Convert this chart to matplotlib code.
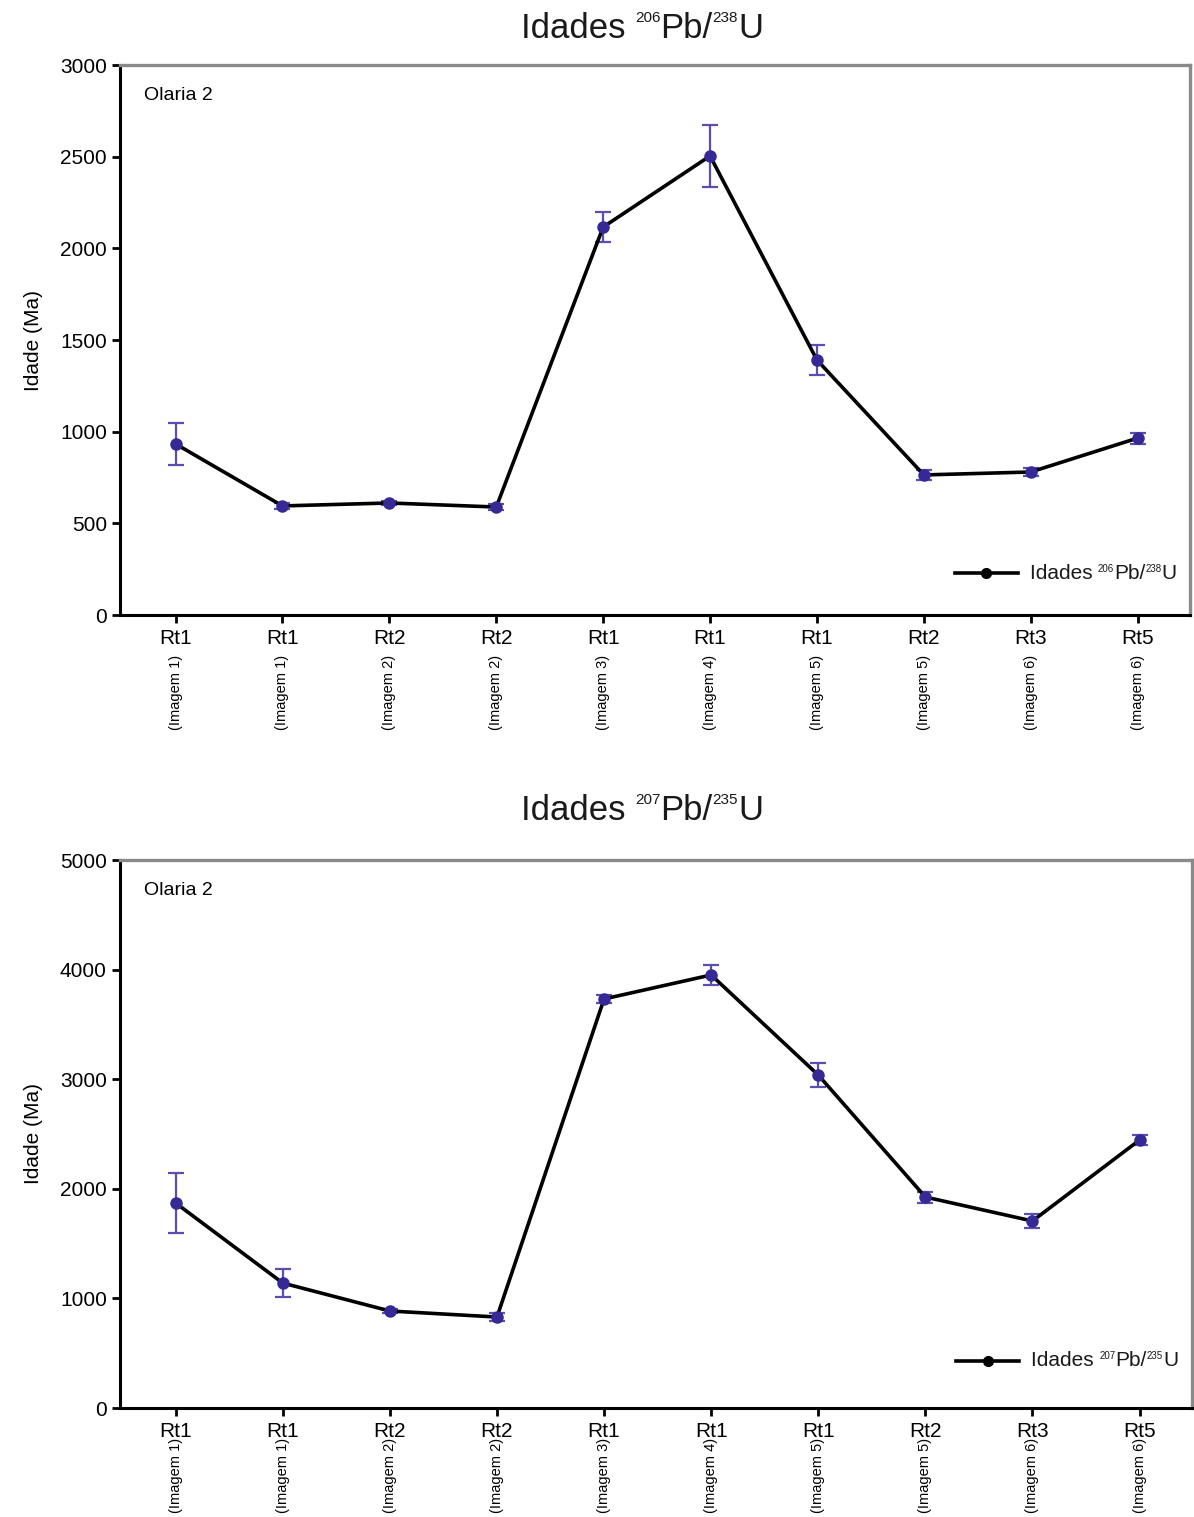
import matplotlib.pyplot as plt
from matplotlib import transforms
from matplotlib.offsetbox import TextArea, HPacker, AnchoredOffsetbox

plt.rcParams['font.family'] = ['Liberation Sans', 'DejaVu Sans']

# sample labels on the x axis
SAMPLES = ['Rt1', 'Rt1', 'Rt2', 'Rt2', 'Rt1', 'Rt1', 'Rt1', 'Rt2', 'Rt3', 'Rt5']
IMAGES = ['(Imagem 1)', '(Imagem 1)', '(Imagem 2)', '(Imagem 2)', '(Imagem 3)',
          '(Imagem 4)', '(Imagem 5)', '(Imagem 5)', '(Imagem 6)', '(Imagem 6)']

# 206Pb/238U ages and errors (Ma)
AGE_206 = [933, 595, 611, 589, 2116, 2504, 1391, 764, 780, 965]
ERR_206 = [115, 15, 12, 15, 80, 170, 80, 25, 20, 30]

# 207Pb/235U ages and errors (Ma)
AGE_207 = [1870, 1140, 885, 830, 3732, 3951, 3038, 1925, 1706, 2445]
ERR_207 = [270, 125, 20, 40, 35, 90, 110, 50, 60, 45]

W, H = 1194, 1517
fig = plt.figure(figsize=(W / 100, H / 100), dpi=100)


# "Idades ^aPb/^bU" with small raised isotope numbers
def isotope_label(a, b, size, sup_size):
    big = dict(fontsize=size, color='#1a1a1a')
    small = dict(fontsize=sup_size, color='#1a1a1a')
    parts = [TextArea('Idades ', textprops=big), TextArea(a, textprops=small),
             TextArea('Pb/', textprops=big), TextArea(b, textprops=small),
             TextArea('U', textprops=big)]
    return HPacker(children=parts, align='top', pad=0, sep=0)


def place(box, xy, transform, loc):
    ab = AnchoredOffsetbox(loc=loc, child=box, bbox_to_anchor=xy,
                           bbox_transform=transform, frameon=False, pad=0, borderpad=0)
    return ab


def panel(rect, ages, errs, ymax, yticks, iso, title_y, img_off, key_y):
    ax = fig.add_axes(rect)
    x = list(range(len(ages)))
    ax.errorbar(x, ages, yerr=errs, fmt='none', ecolor='#5a4fb0', elinewidth=1.6,
                capsize=6, capthick=1.6, zorder=2)
    ax.plot(x, ages, color='black', lw=2.6, zorder=3)
    ax.plot(x, ages, 'o', color='#352a95', ms=8, zorder=4)

    # legend key
    ax.plot([0.780, 0.839], [key_y, key_y], color='black', lw=2.6,
            transform=ax.transAxes, clip_on=False)
    ax.plot([0.8095], [key_y], 'o', color='black', ms=7, transform=ax.transAxes)
    ax.add_artist(place(isotope_label(iso[0], iso[1], 15, 7), (0.850, key_y),
                        ax.transAxes, 'center left'))

    ax.set_xlim(-0.52, 9.49)
    ax.set_ylim(0, ymax)
    ax.set_yticks(yticks)
    ax.set_xticks(x)
    ax.set_xticklabels(SAMPLES, fontsize=15)
    ax.tick_params(axis='y', labelsize=15, width=2, length=6, direction='out')
    ax.tick_params(axis='x', width=2, length=6, direction='out', pad=4)
    for s in ['left', 'bottom']:
        ax.spines[s].set_linewidth(2.2)
        ax.spines[s].set_color('black')
    for s in ['top', 'right']:
        ax.spines[s].set_linewidth(2.4)
        ax.spines[s].set_color('#8a8a8a')
    ax.set_ylabel('Idade (Ma)', fontsize=15, labelpad=12)
    ax.text(0.022, 0.945, 'Olaria 2', transform=ax.transAxes, fontsize=14,
            va='center', ha='left')
    trans = transforms.blended_transform_factory(ax.transData, ax.transAxes)
    for xi, im in zip(x, IMAGES):
        ax.text(xi, img_off, im, transform=trans, rotation=90, fontsize=10.5,
                ha='center', va='top')
    fig.add_artist(place(isotope_label(iso[0], iso[1], 25, 11),
                         (642 / W, 1 - title_y / H), fig.transFigure, 'center'))


panel([120 / W, 1 - 615 / H, 1070 / W, 550 / H], AGE_206, ERR_206, 3000,
      [0, 500, 1000, 1500, 2000, 2500, 3000], ('206', '238'), 28, -0.072, 0.076)
panel([120 / W, 1 - 1408 / H, 1072 / W, 548 / H], AGE_207, ERR_207, 5000,
      [0, 1000, 2000, 3000, 4000, 5000], ('207', '235'), 810, -0.055, 0.086)

fig.savefig('out.png', dpi=100)
